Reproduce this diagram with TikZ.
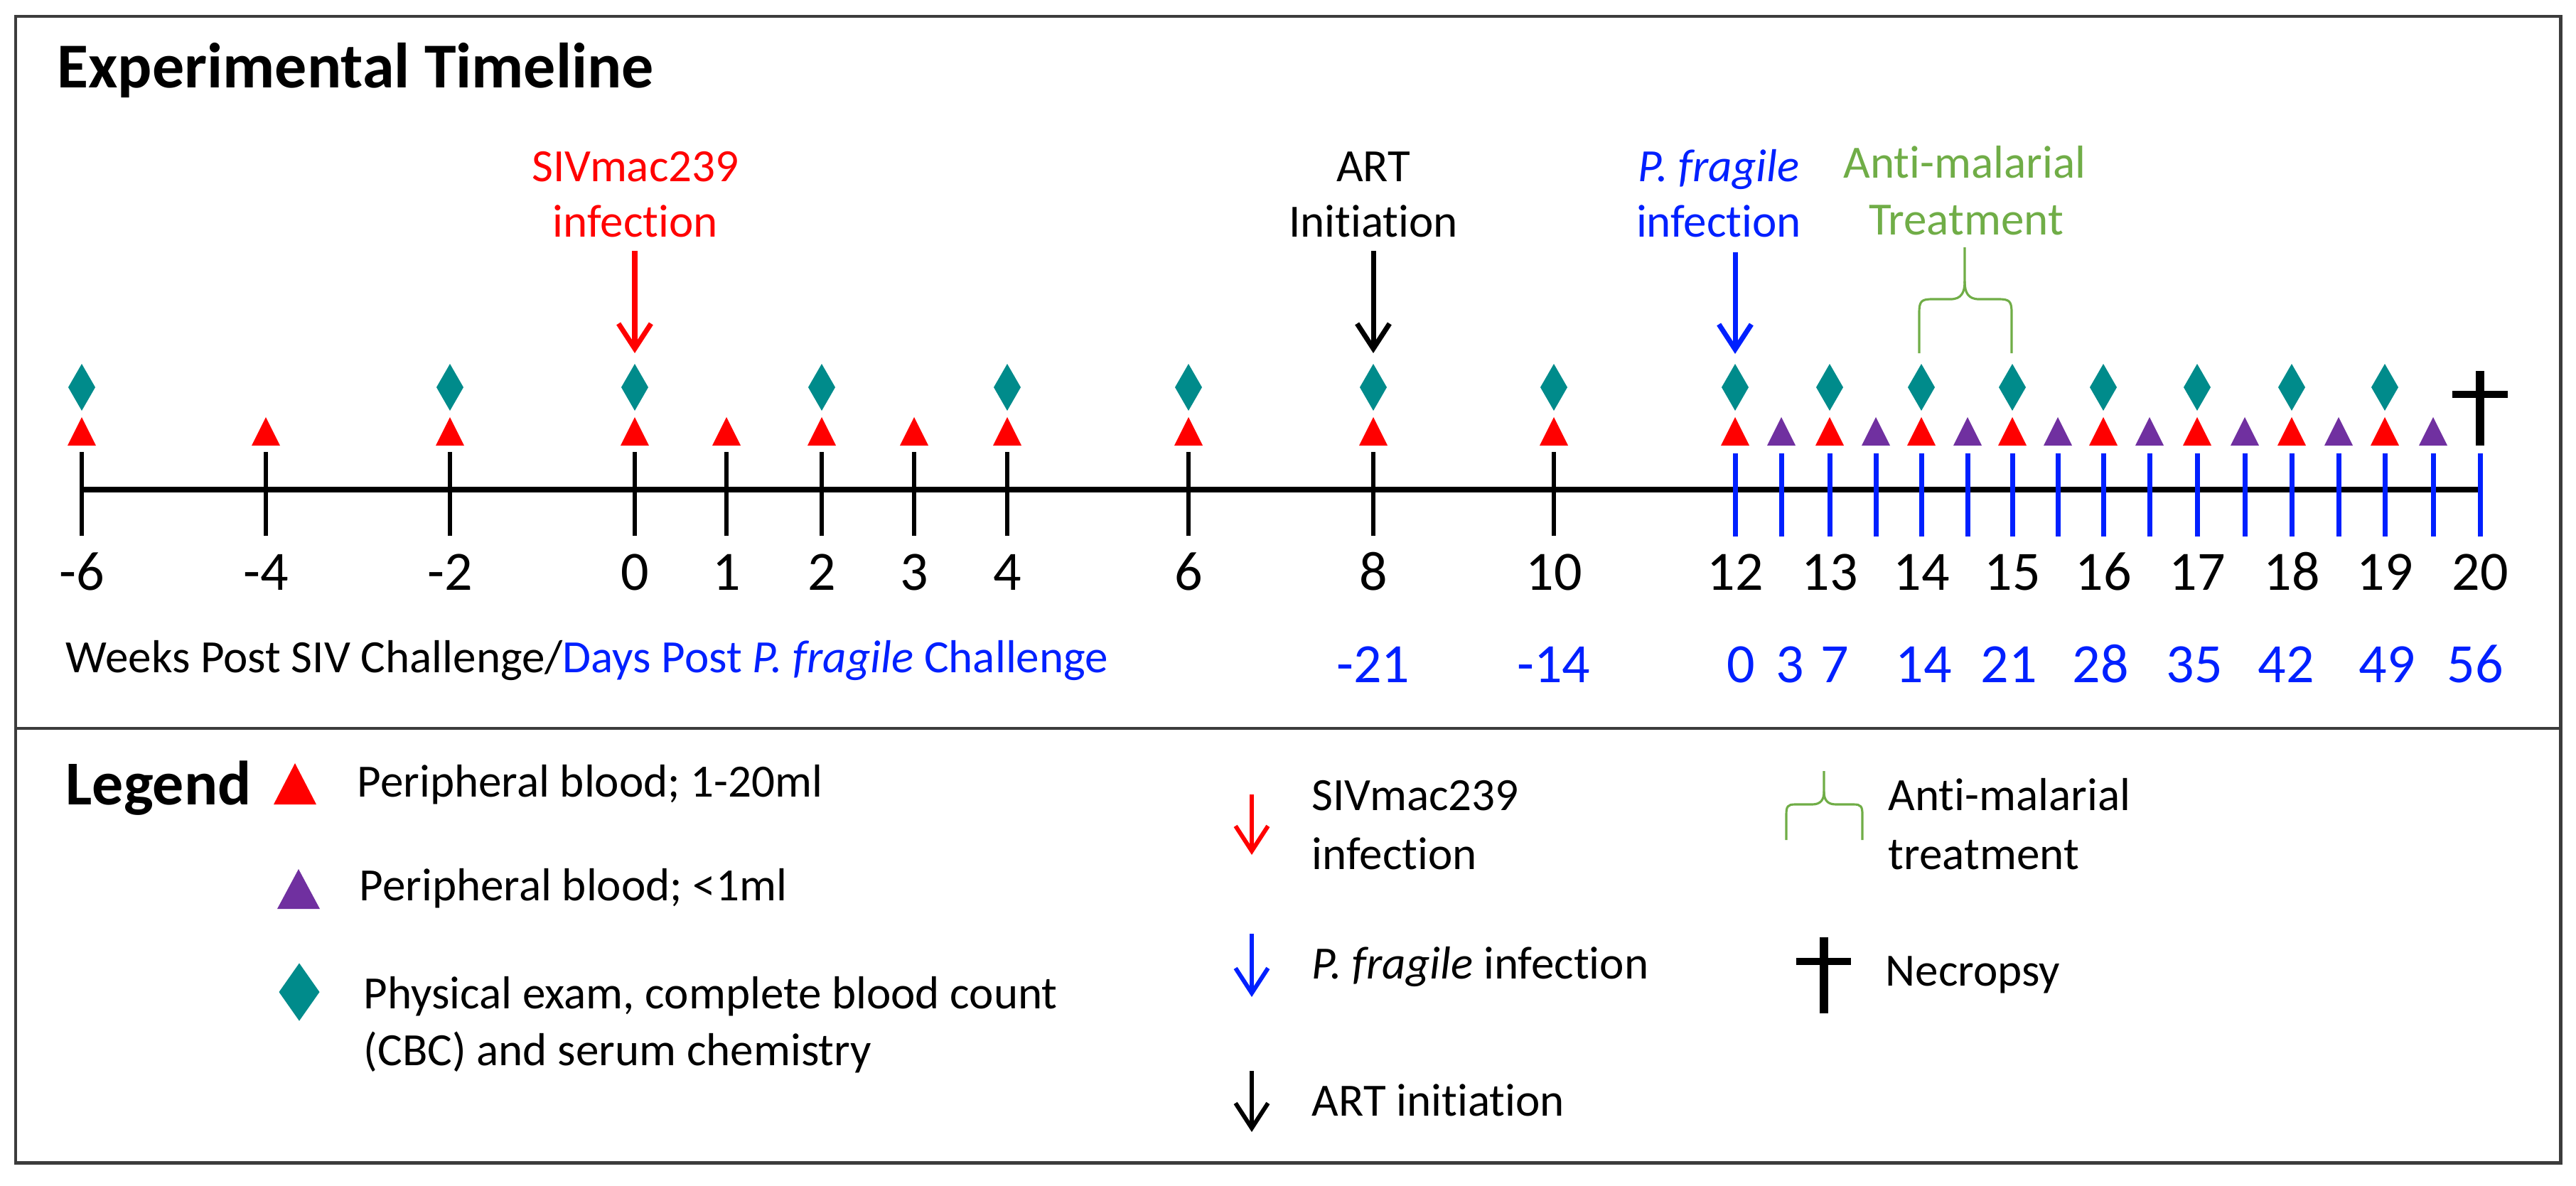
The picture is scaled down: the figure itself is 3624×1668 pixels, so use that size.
\documentclass[tikz,border=0pt]{standalone}
\usepackage{fontspec}
\setmainfont{Carlito}[Ligatures=NoCommon]
\usetikzlibrary{arrows.meta}
\definecolor{tred}{RGB}{255,0,0}
\definecolor{tteal}{RGB}{0,139,139}
\definecolor{tpurple}{RGB}{112,48,160}
\definecolor{tgreen}{RGB}{112,173,71}
\definecolor{tblue}{RGB}{0,32,255}
\definecolor{tframe}{RGB}{60,60,60}
\begin{document}
\begin{tikzpicture}[x=0.01cm,y=-0.01cm,
  frameline/.style={draw=tframe, line width=1.4pt},
  titletext/.style={font=\fontsize{25.6}{30}\selectfont\bfseries, anchor=base west, inner sep=0pt},
  evttext/.style={font=\fontsize{18.5}{22}\selectfont, anchor=base, inner sep=0pt},
  wktext/.style={font=\fontsize{22.2}{26}\selectfont, anchor=base, inner sep=0pt},
  lgtext/.style={font=\fontsize{18.5}{22}\selectfont, anchor=base west, inner sep=0pt},
  axisline/.style={line width=2.3pt, black},
  tickblk/.style={line width=1.8pt, black},
  tickblu/.style={line width=2pt, tblue},
  evtarrow/.style={line width=2pt, -{Straight Barb[length=10pt,width=13pt]}},
  lgarrow/.style={line width=1.7pt, -{Straight Barb[length=10pt,width=13pt]}},
  bracepath/.style={draw=tgreen, line width=0.9pt},
  crossline/.style={line width=3.4pt, black},
  marktri/.pic={\fill (-20,20) -- (20,20) -- (0,-20) -- cycle;},
  markdia/.pic={\fill (0,-33) -- (19,0) -- (0,33) -- (-19,0) -- cycle;}
]
\useasboundingbox (0,0) rectangle (3624,1668);
% frame and divider
\draw[frameline] (22,23) rectangle (3602,1636);
\coordinate (divL) at (22,1025);
\coordinate (divR) at (3602,1025);
\draw[frameline] (divL) -- (divR);

% title
\node[titletext] (title) at (80,123) {Experimental Timeline};

% event labels
\node[evttext, tred] (siv1) at (894,255) {SIVmac239};
\node[evttext, tred] (siv2) at (894,333) {infection};
\node[evttext, black] (art1) at (1932,255) {ART};
\node[evttext, black] (art2) at (1932,333) {Initiation};
\node[evttext, tblue] (pf1) at (2418,255) {\itshape P. fragile};
\node[evttext, tblue] (pf2) at (2418,333) {infection};
\node[evttext, tgreen] (am1) at (2764,250) {Anti-malarial};
\node[evttext, tgreen] (am2) at (2766,330) {Treatment};

% event arrows
\coordinate (sivA) at (893,353);  \coordinate (sivB) at (893,497);
\coordinate (artA) at (1932,353); \coordinate (artB) at (1932,497);
\coordinate (pfA) at (2441,355);  \coordinate (pfB) at (2441,498);
\draw[evtarrow, tred] (sivA) -- (sivB);
\draw[evtarrow, black] (artA) -- (artB);
\draw[evtarrow, tblue] (pfA) -- (pfB);

% brace (anti-malarial)
\draw[bracepath] (2700,497) -- (2700,440) .. controls (2700,424) and (2703,421) .. (2718,421) -- (2744,421) .. controls (2759,421) and (2764,412) .. (2764,396) -- (2764,348);
\draw[bracepath] (2830,497) -- (2830,440) .. controls (2830,424) and (2827,421) .. (2812,421) -- (2784,421) .. controls (2769,421) and (2764,412) .. (2764,396);

% axis
\coordinate (axL) at (115,689);
\coordinate (axR) at (3489,689);
\draw[axisline] (axL) -- (axR);

% black ticks
\foreach \x in {115,374,633,893,1022,1156,1286,1417,1672,1932,2186}
  \draw[tickblk] (\x,636) -- (\x,754);
% blue ticks
\foreach \x in {2441,2506,2574,2639,2703,2768,2831,2895,2959,3024,3091,3158,3224,3290,3355,3423,3489}
  \draw[tickblu] (\x,638) -- (\x,755);

% red triangles
\foreach \x in {115,374,633,893,1022,1156,1286,1417,1672,1932,2186,2441,2574,2703,2831,2959,3091,3224,3355}
  \pic[tred] at (\x,607) {marktri};
% purple triangles
\foreach \x in {2506,2639,2768,2895,3024,3158,3290,3423}
  \pic[tpurple] at (\x,607) {marktri};
% diamonds
\foreach \x in {115,633,893,1156,1417,1672,1932,2186,2441,2574,2703,2831,2959,3091,3224,3355}
  \pic[tteal] at (\x,545) {markdia};

% necropsy cross
\draw[crossline] (3489,522) -- (3489,627);
\draw[crossline, line width=3pt] (3450,555) -- (3528,555);

% week labels
\foreach \x/\t [count=\i] in {115/-6,374/-4,633/-2,893/0,1022/1,1156/2,1286/3,1417/4,1672/6,1932/8,2186/10,2441/12,2574/13,2703/14,2831/15,2959/16,3091/17,3224/18,3355/19,3489/20}
  \node[wktext] (wk\i) at (\x,830) {\t};

% axis caption and day labels
\node[lgtext] (caption) at (92,946) {Weeks Post SIV Challenge/\textcolor{tblue}{Days Post \textit{P. fragile} Challenge}};
\foreach \x/\t [count=\i] in {1932/-21,2186/-14,2449/0,2518/3,2581/7,2706/14,2826/21,2955/28,3087/35,3216/42,3358/49,3482/56}
  \node[wktext, tblue] (day\i) at (\x,960) {\t};

% legend
\node[titletext, font=\fontsize{25}{30}\selectfont\bfseries] (legend) at (92,1132) {Legend};
\pic[tred, xscale=1.5, yscale=1.45] at (415,1103) {marktri};
\node[lgtext] (lg1) at (502,1121) {Peripheral blood; 1-20ml};
\pic[tpurple, xscale=1.5, yscale=1.4] at (420,1251) {marktri};
\node[lgtext] (lg2) at (505,1267) {Peripheral blood; <1ml};
\pic[tteal, xscale=1.5, yscale=1.23] at (421,1396) {markdia};
\node[lgtext] (lg3) at (511,1419) {Physical exam, complete blood count};
\node[lgtext] (lg4) at (511,1499) {(CBC) and serum chemistry};

\coordinate (lsA) at (1761,1118); \coordinate (lsB) at (1761,1203);
\draw[lgarrow, tred] (lsA) -- (lsB);
\node[lgtext] (lg5) at (1845,1140) {SIVmac239};
\node[lgtext] (lg6) at (1845,1223) {infection};
\coordinate (lpA) at (1761,1314); \coordinate (lpB) at (1761,1403);
\draw[lgarrow, tblue] (lpA) -- (lpB);
\node[lgtext] (lg7) at (1845,1377) {\textit{P. fragile} infection};
\coordinate (laA) at (1761,1507); \coordinate (laB) at (1761,1593);
\draw[lgarrow, black] (laA) -- (laB);
\node[lgtext] (lg8) at (1845,1570) {ART initiation};

\draw[bracepath] (2513,1182) -- (2513,1146) .. controls (2513,1135) and (2515,1132) .. (2525,1132) -- (2549,1132) .. controls (2561,1132) and (2566,1126) .. (2566,1114) -- (2566,1085);
\draw[bracepath] (2620,1182) -- (2620,1146) .. controls (2620,1135) and (2618,1132) .. (2608,1132) -- (2583,1132) .. controls (2571,1132) and (2566,1126) .. (2566,1114);
\node[lgtext] (lg9) at (2656,1140) {Anti-malarial};
\node[lgtext] (lg10) at (2656,1223) {treatment};

\draw[crossline] (2566,1319) -- (2566,1426);
\draw[crossline, line width=3pt] (2527,1353) -- (2604,1353);
\node[lgtext] (lg11) at (2652,1387) {Necropsy};
\end{tikzpicture}
\end{document}
